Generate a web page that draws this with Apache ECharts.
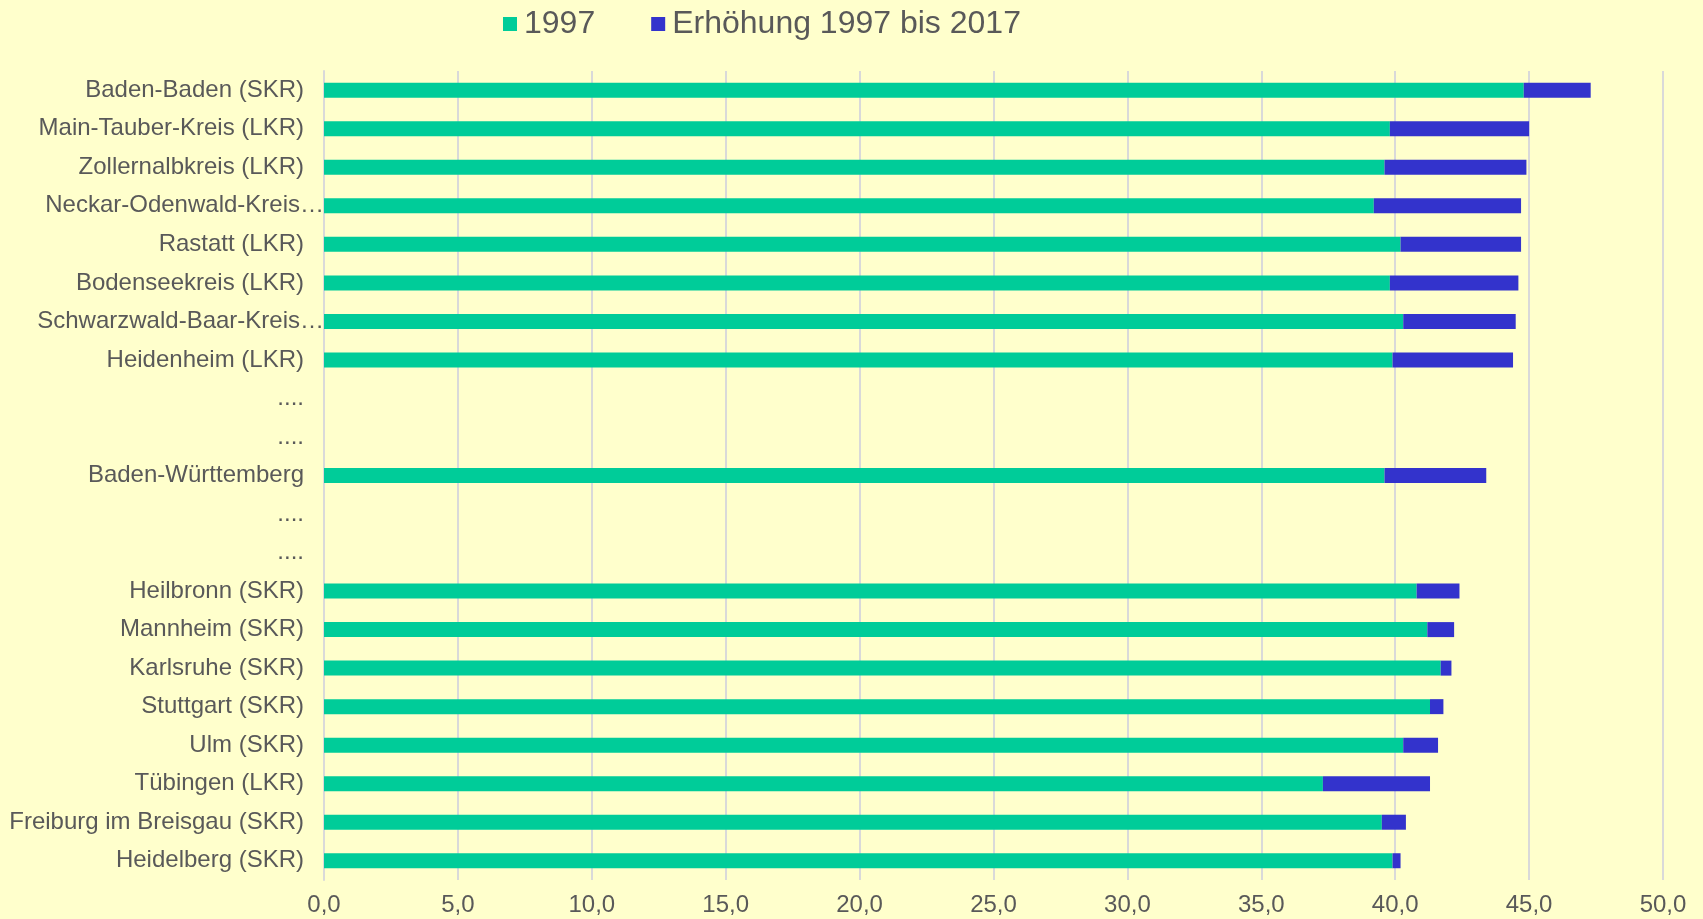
<!DOCTYPE html>
<html>
<head>
<meta charset="utf-8">
<script src="https://cdn.jsdelivr.net/npm/echarts@6/dist/echarts.min.js"></script>
<style>
html,body{margin:0;padding:0;background:#FFFFCC;}
#chart{width:1703px;height:919px;}
</style>
</head>
<body>
<div id="chart"></div>
<script>
const categories = [
  "Baden-Baden (SKR)",
  "Main-Tauber-Kreis (LKR)",
  "Zollernalbkreis (LKR)",
  "Neckar-Odenwald-Kreis\u2026",
  "Rastatt (LKR)",
  "Bodenseekreis (LKR)",
  "Schwarzwald-Baar-Kreis\u2026",
  "Heidenheim (LKR)",
  "....",
  "....",
  "Baden-Württemberg",
  "....",
  "....",
  "Heilbronn (SKR)",
  "Mannheim (SKR)",
  "Karlsruhe (SKR)",
  "Stuttgart (SKR)",
  "Ulm (SKR)",
  "Tübingen (LKR)",
  "Freiburg im Breisgau (SKR)",
  "Heidelberg (SKR)"
];
const values1997 = [44.8, 39.8, 39.6, 39.2, 40.2, 39.8, 40.3, 39.9, null, null, 39.6, null, null, 40.8, 41.2, 41.7, 41.3, 40.3, 37.3, 39.5, 39.9];
const increase = [2.5, 5.2, 5.3, 5.5, 4.5, 4.8, 4.2, 4.5, null, null, 3.8, null, null, 1.6, 1.0, 0.4, 0.5, 1.3, 4.0, 0.9, 0.3];
const seriesNames = ["1997", "Erhöhung 1997 bis 2017"];
const xTicks = { min: 0, max: 50, interval: 5 };

const font = "'Liberation Sans', Arial, sans-serif";
const yData = categories.map(c => c.endsWith('\u2026')
  ? { value: c, textStyle: { padding: [0, -20, 0, 0] } }
  : c);

const chart = echarts.init(document.getElementById('chart'));
chart.setOption({
  backgroundColor: '#FFFFCC',
  animation: false,
  legend: {
    left: 498,
    top: 3,
    itemWidth: 14,
    itemHeight: 14,
    itemGap: 56,
    icon: 'rect',
    textStyle: { fontFamily: font, fontSize: 32, color: '#595959', padding: [0, 0, 0, 2] },
    data: seriesNames
  },
  grid: { left: 324, right: 40, top: 71, bottom: 39, containLabel: false },
  xAxis: {
    type: 'value',
    min: xTicks.min, max: xTicks.max, interval: xTicks.interval,
    axisLine: { show: false },
    axisTick: { show: false },
    splitLine: { show: true, lineStyle: { color: '#D9D9D9', width: 2 } },
    axisLabel: {
      fontFamily: font, fontSize: 24, color: '#595959', margin: 13,
      formatter: v => v.toFixed(1).replace('.', ',')
    }
  },
  yAxis: {
    type: 'category',
    inverse: true,
    data: yData,
    axisLine: { show: true, lineStyle: { color: '#D9D9D9', width: 2 } },
    axisTick: { show: false },
    axisLabel: { fontFamily: font, fontSize: 24, color: '#595959', margin: 20 }
  },
  series: [
    {
      name: seriesNames[0], type: 'bar', stack: 'total', barWidth: 15,
      itemStyle: { color: '#00CC99' },
      data: values1997
    },
    {
      name: seriesNames[1], type: 'bar', stack: 'total', barWidth: 15,
      itemStyle: { color: '#3333CC' },
      data: increase
    }
  ]
});
</script>
</body>
</html>
